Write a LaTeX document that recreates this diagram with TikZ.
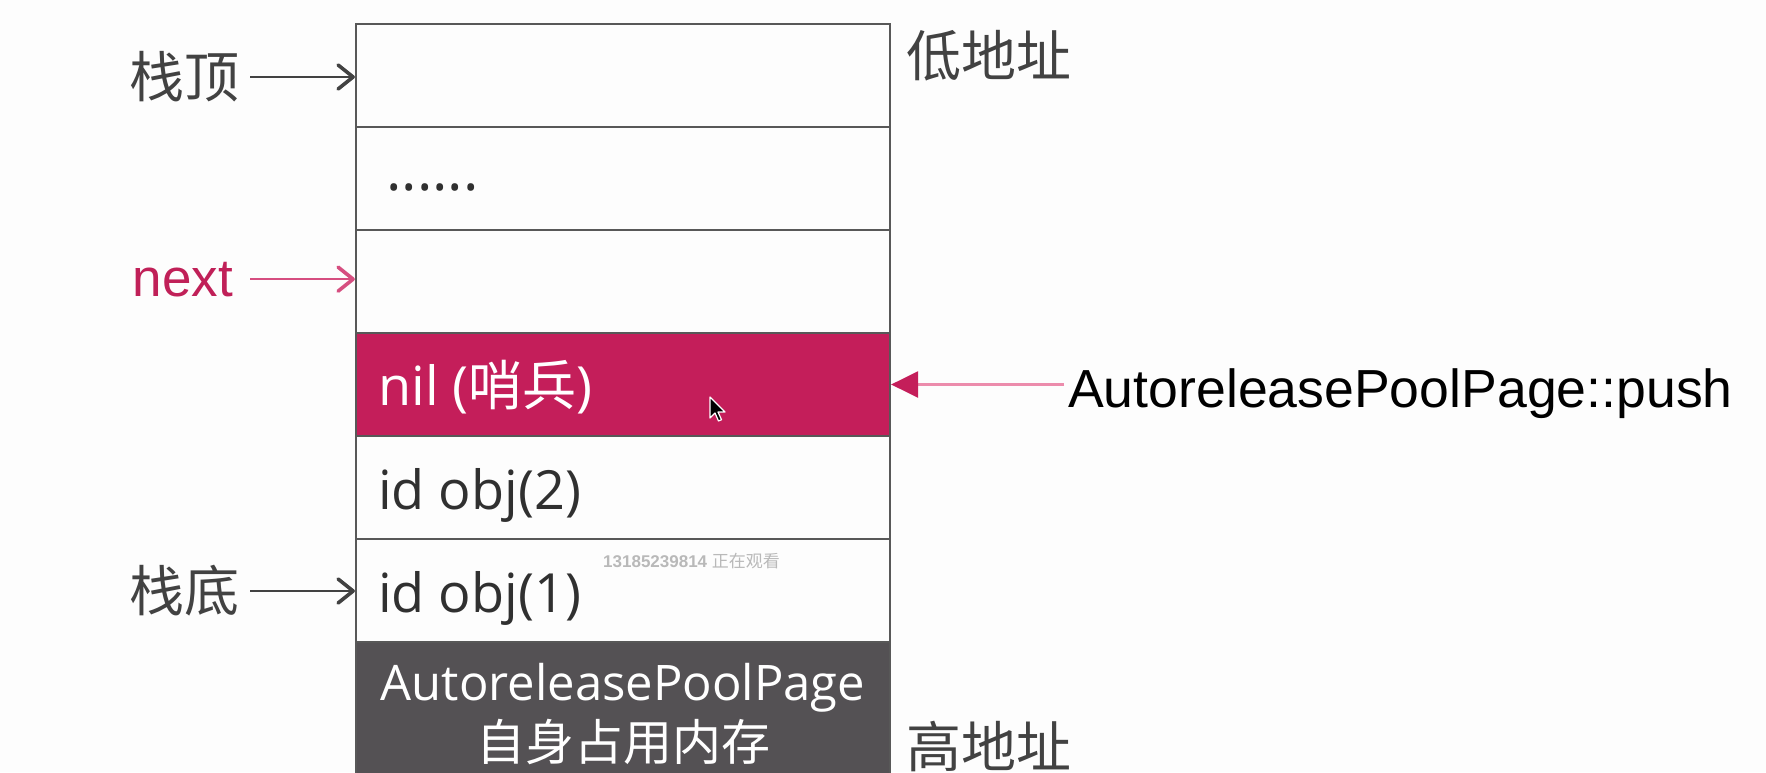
\documentclass[tikz,border=0pt]{standalone}
\usepackage{fontspec}
\usetikzlibrary{arrows.meta}
\newfontfamily\cjk{Noto Sans CJK SC}
\newfontfamily\osans{Open Sans}
\newfontfamily\lsans{Liberation Sans}
\definecolor{crim}{RGB}{196,30,90}
\definecolor{crimtext}{RGB}{192,32,88}
\definecolor{nextline}{RGB}{214,78,128}
\definecolor{pushline}{RGB}{236,140,172}
\definecolor{bordergray}{RGB}{88,88,88}
\definecolor{labelgray}{RGB}{66,66,66}
\definecolor{textgray}{RGB}{48,48,48}
\definecolor{darkfill}{RGB}{84,81,84}
\definecolor{wmgray}{RGB}{185,185,185}
\definecolor{bgwhite}{RGB}{253,253,253}
\begin{document}
\begin{tikzpicture}[x=1pt,y=-1pt,
  rowbox/.style={draw=bordergray, line width=2.2pt, minimum width=534pt, minimum height=103pt, inner sep=0pt},
  celltext/.style={anchor=base west, inner sep=0pt, text=textgray, font=\osans\fontsize{54}{60}\selectfont},
  sidelabel/.style={text=labelgray, inner sep=0pt, font=\cjk\fontsize{55}{60}\selectfont},
  barbtip/.style={-{Straight Barb[length=15pt,width=24pt,line width=3.6pt,round]}},
  grayarrow/.style={draw=labelgray, line width=2pt, barbtip},
  nextarrow/.style={draw=nextline, line width=2pt, barbtip},
  pusharrow/.style={draw=pushline, line width=2.4pt, -{Triangle[length=27pt,width=26pt,color=crim]}},
  darktext/.style={text=white, inner sep=0pt}]
\useasboundingbox (0,0) rectangle (1766,772);
\clip (0,0) rectangle (1766,772);
\fill[bgwhite] (0,0) rectangle (1766,772);

% stack rows
\node[rowbox] (r1) at (623,75.5) {};
\node[rowbox] (r2) at (623,178.5) {};
\node[rowbox] (r3) at (623,281.5) {};
\node[rowbox, fill=crim] (r4) at (623,384.5) {};
\node[rowbox] (r5) at (623,487.5) {};
\node[rowbox] (r6) at (623,590.5) {};
\node[rowbox, fill=darkfill, minimum height=160pt] (r7) at (623,722) {};

% cell texts
\node[celltext, font=\osans\fontsize{58}{60}\selectfont] (dots) at (386,190) {......};
\node[celltext, text=white] (nil) at (378,405) {nil ({\cjk 哨兵})};
\node[celltext] (obj2) at (378,509) {id obj(2)};
\node[celltext] (obj1) at (378,612) {id obj(1)};
\node[darktext, anchor=base, font=\osans\fontsize{49}{55}\selectfont] (dk1) at (623,700) {AutoreleasePoolPage};
\node[darktext, font=\cjk\fontsize{49}{55}\selectfont] (dk2) at (623,742) {自身占用内存};

% watermark
\node[anchor=west, inner sep=0pt, text=wmgray, font=\lsans\bfseries\fontsize{17}{20}\selectfont] (wm) at (603,561) {13185239814 {\cjk\mdseries 正在观看}};

% left labels
\node[sidelabel] (ltop) at (184,77) {栈顶};
\node[anchor=base, inner sep=0pt, text=crimtext, font=\lsans\fontsize{53}{60}\selectfont] (lnext) at (183,296) {next};
\node[sidelabel] (lbot) at (184,591) {栈底};

\draw[grayarrow, shorten <=11pt] (ltop.east) -- (ltop.east -| r1.west);
\draw[nextarrow, shorten <=17pt] (lnext.east) -- (lnext.east -| r3.west);
\draw[grayarrow, shorten <=11pt] (lbot.east) -- (lbot.east -| r6.west);

% right labels
\node[sidelabel] (low) at (989,56) {低地址};
\node[sidelabel] (high) at (989,746) {高地址};
\node[anchor=base west, inner sep=4pt, text=black, font=\lsans\fontsize{53.6}{60}\selectfont] (push) at (1064,407) {AutoreleasePoolPage::push};
\draw[pusharrow] (push.west |- r4.east) -- (r4.east);

% mouse cursor
\filldraw[fill=black, draw=white, line width=1.2pt, line join=round]
  (710,397) -- ++(0,21) -- ++(5,-5) -- ++(3.5,8) -- ++(3,-1.3) -- ++(-3.5,-7.7) -- ++(7,0) -- cycle;
\end{tikzpicture}
\end{document}
